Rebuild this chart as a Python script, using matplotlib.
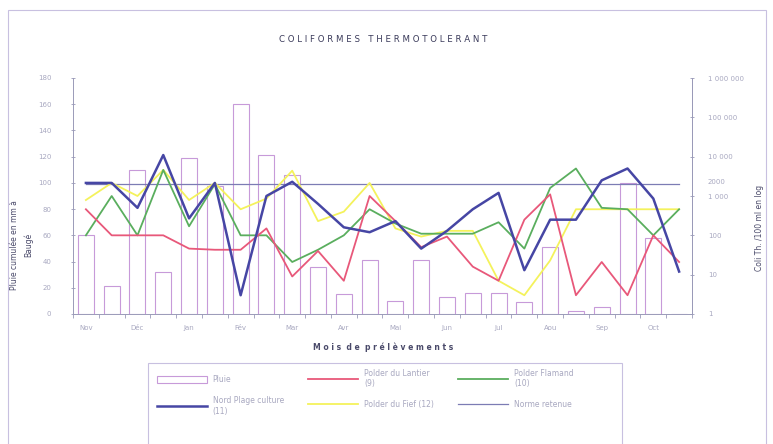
import matplotlib
matplotlib.use("Agg")
import matplotlib.pyplot as plt
from matplotlib.patches import Rectangle
from matplotlib.lines import Line2D
import numpy as np

months = ["Nov", "Déc", "Jan", "Fév", "Mar", "Avr", "Mai", "Jun", "Jul", "Aou", "Sep", "Oct"]

# rain (mm), 2 samples per month
pluie = [60, 21, 110, 32, 119, 98, 160, 121, 106, 36, 15, 41,
         10, 41, 13, 16, 16, 9, 51, 2, 5, 100, 58, 0]

# thermotolerant coliforms, /100 ml
lantier = [460, 100, 100, 100, 46, 43, 43, 150, 9, 40, 7, 1000,
           230, 50, 93, 16, 7, 250, 1100, 3, 21, 3, 100, 21]
flamand = [100, 1000, 100, 4600, 170, 2000, 100, 100, 21, 43, 100, 460,
           200, 110, 110, 110, 215, 46, 1600, 5000, 500, 460, 100, 460]
nord = [2150, 2150, 500, 11000, 270, 2150, 3, 1000, 2300, 630, 160, 120,
        230, 46, 130, 460, 1200, 13, 250, 250, 2500, 5000, 860, 12]
fief = [790, 2150, 1000, 4600, 790, 2150, 460, 860, 4400, 230, 400, 2150,
        150, 93, 130, 130, 7, 3, 23, 460, 460, 460, 460, 460]
norme = 2000

left_ticks = list(range(0, 181, 20))
right_ticks = [1, 10, 100, 1000, 10000, 100000, 1000000]
right_labels = ["1", "10", "100", "1 000", "10 000", "100 000", "1 000 000"]

W, H = 773, 444
fig = plt.figure(figsize=(W / 100, H / 100), dpi=100)
fig.patch.set_facecolor("white")

# outer frame
fig.add_artist(Rectangle((8 / W, -0.01), (766 - 8) / W, 1 - 10 / H + 0.01,
                         transform=fig.transFigure, fill=False,
                         edgecolor="#c8c0e0", lw=0.8))

axl, axr, axb, axt = 73, 692, 314, 78
ax = fig.add_axes([axl / W, 1 - axb / H, (axr - axl) / W, (axb - axt) / H])
n = len(pluie)
x = np.arange(n)

tick_col = "#a8a8c0"
spine_col = "#9a9ab8"

ax.bar(x, pluie, width=0.62, facecolor="white", edgecolor="#c79ad9", lw=0.8, zorder=1)
ax.set_xlim(-0.5, n - 0.5)
ax.set_ylim(0, 180)
ax.set_yticks(left_ticks)
ax.set_yticklabels([str(t) for t in left_ticks])
ax.set_xticks(np.arange(0, n, 2))
ax.set_xticklabels(months)
ax.set_xticks(np.arange(-0.5, n, 1), minor=True)
ax.tick_params(axis="x", which="major", length=0, pad=8, labelsize=5, labelcolor=tick_col)
ax.tick_params(axis="x", which="minor", length=3, direction="out", color=spine_col, width=0.6)
ax.tick_params(axis="y", length=3, direction="inout", color=spine_col, width=0.6,
               labelsize=5, labelcolor=tick_col, pad=14)
ax.spines["top"].set_visible(False)
for s in ["left", "bottom", "right"]:
    ax.spines[s].set_color(spine_col)
    ax.spines[s].set_linewidth(0.7)

ax2 = ax.twinx()
ax2.set_yscale("log")
ax2.set_ylim(1, 1e6)
ax2.patch.set_visible(False)
ax2.plot(x, [norme] * n, color="#7c7cb4", lw=0.9, zorder=2)
ax2.plot(x, fief, color="#f4f25c", lw=1.3, zorder=3)
ax2.plot(x, flamand, color="#5aae5e", lw=1.3, zorder=4)
ax2.plot(x, lantier, color="#e8587a", lw=1.3, zorder=5)
ax2.plot(x, nord, color="#4646a4", lw=1.8, zorder=6)
ax2.set_yticks(right_ticks)
ax2.set_yticklabels(right_labels)
ax2.yaxis.set_minor_locator(matplotlib.ticker.NullLocator())
ax2.tick_params(axis="y", length=3, direction="inout", color=spine_col, width=0.6,
                labelsize=5, labelcolor=tick_col, pad=10)
for s in ["top", "left", "bottom"]:
    ax2.spines[s].set_visible(False)
ax2.spines["right"].set_color(spine_col)
ax2.spines["right"].set_linewidth(0.7)
ax2.text(1.025, np.log10(norme) / 6 + 0.01, "2000", transform=ax2.transAxes,
         fontsize=5, color=tick_col, va="center", ha="left")

# texts
fig.text(383 / W, 1 - 40 / H, "C O L I F O R M E S   T H E R M O T O L E R A N T",
         ha="center", va="center", fontsize=6.2, color="#3a3a5a")
fig.text(383 / W, 1 - 347 / H, "M o i s  d e  p r é l è v e m e n t s",
         ha="center", va="center", fontsize=5.5, color="#4a4a6a", fontweight="bold")
fig.text(22 / W, 1 - 245 / H, "Pluie cumulée en mm à\nBaugé", rotation=90,
         ha="center", va="center", fontsize=5.5, color="#4a4a6a", linespacing=1.6)
fig.text(760 / W, 1 - 228 / H, "Coli Th. /100 ml en log", rotation=90,
         ha="center", va="center", fontsize=5.5, color="#4a4a6a")

# legend box
fig.add_artist(Rectangle((148 / W, -0.01), (622 - 148) / W, 1 - 363 / H + 0.01,
                         transform=fig.transFigure, fill=False,
                         edgecolor="#c8c0e0", lw=0.8))
handles = [
    Rectangle((0, 0), 1, 1, facecolor="white", edgecolor="#c79ad9", lw=0.8),
    Line2D([], [], color="#4646a4", lw=1.8),
    Line2D([], [], color="#e8587a", lw=1.3),
    Line2D([], [], color="#f4f25c", lw=1.3),
    Line2D([], [], color="#5aae5e", lw=1.3),
    Line2D([], [], color="#7c7cb4", lw=0.9),
]
labels = ["Pluie", "Nord Plage culture\n(11)", "Polder du Lantier\n(9)",
          "Polder du Fief (12)", "Polder Flamand\n(10)", "Norme retenue"]
leg = fig.legend(handles, labels, ncol=3, loc="upper left",
                 bbox_to_anchor=(150 / W, 1 - 362 / H), frameon=False,
                 fontsize=5.5, handlelength=6.5, handleheight=1.2,
                 columnspacing=3.2, labelspacing=1.6, handletextpad=0.8)
for t in leg.get_texts():
    t.set_color("#a8a8c0")

fig.savefig("out.png", dpi=100)
